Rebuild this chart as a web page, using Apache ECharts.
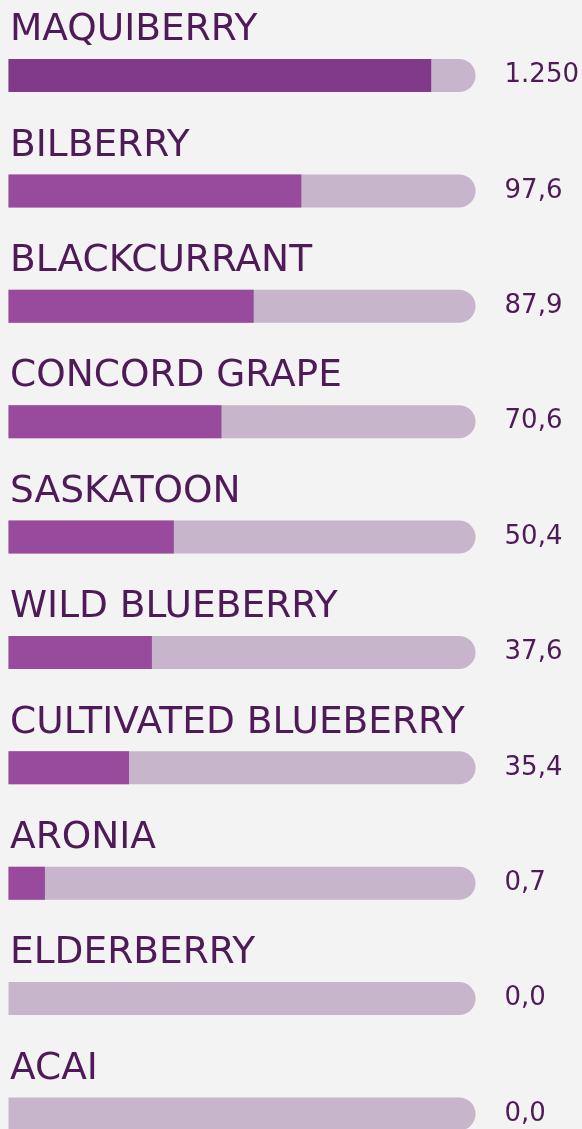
<!DOCTYPE html>
<html>
<head>
<meta charset="utf-8">
<script src="https://cdn.jsdelivr.net/npm/echarts@6/dist/echarts.min.js"></script>
<style>
  html, body { margin: 0; padding: 0; background: #f4f3f3; }
  #chart { width: 582px; height: 1129px; }
</style>
</head>
<body>
<div id="chart"></div>
<script>
const categories = ['MAQUIBERRY', 'BILBERRY', 'BLACKCURRANT', 'CONCORD GRAPE', 'SASKATOON',
    'WILD BLUEBERRY', 'CULTIVATED BLUEBERRY', 'ARONIA', 'ELDERBERRY', 'ACAI'];
// printed values (as shown on the right)
const valueLabels = ['1.250', '97,6', '87,9', '70,6', '50,4', '37,6', '35,4', '0,7', '0,0', '0,0'];
// filled share of each track, in percent
const fillPercent = [90.5, 62.7, 52.5, 45.6, 35.4, 30.7, 25.8, 7.8, 0, 0];
const trackFull = categories.map(() => 100);

const textColor = '#4f1a58';
const fillColors = ['#803a89', '#984a9c', '#984a9c', '#984a9c', '#984a9c',
    '#984a9c', '#984a9c', '#984a9c', '#984a9c', '#984a9c'];
const font = 'DejaVu Sans';

const chart = echarts.init(document.getElementById('chart'));
chart.setOption({
    backgroundColor: '#f4f3f3',
    animation: false,
    grid: {left: 8.5, right: 105.8, top: 75.5, bottom: 15, containLabel: false},
    xAxis: {type: 'value', min: 0, max: 100, show: false},
    yAxis: [
        {
            type: 'category',
            inverse: true,
            boundaryGap: false,
            data: categories,
            show: false
        },
        {
            type: 'category',
            inverse: true,
            boundaryGap: false,
            position: 'right',
            data: valueLabels,
            axisLine: {show: false},
            axisTick: {show: false},
            axisLabel: {
                margin: 29,
                color: textColor,
                fontSize: 26,
                fontFamily: font
            }
        }
    ],
    series: [
        {
            name: 'track',
            type: 'bar',
            yAxisIndex: 0,
            data: trackFull,
            barWidth: 33,
            clip: false,
            silent: true,
            itemStyle: {color: '#c7b5cb', borderRadius: [0, 16.5, 16.5, 0]},
            label: {
                show: true,
                formatter: (p) => categories[p.dataIndex],
                position: [1.5, -28.5],
                verticalAlign: 'middle',
                align: 'left',
                color: textColor,
                fontSize: 37.5,
                fontFamily: font
            }
        },
        {
            name: 'fill',
            type: 'bar',
            yAxisIndex: 0,
            data: fillPercent.map((v, i) => ({value: v, itemStyle: {color: fillColors[i]}})),
            barWidth: 33,
            barGap: '-100%',
            clip: false,
            silent: true
        }
    ]
});
</script>
</body>
</html>
